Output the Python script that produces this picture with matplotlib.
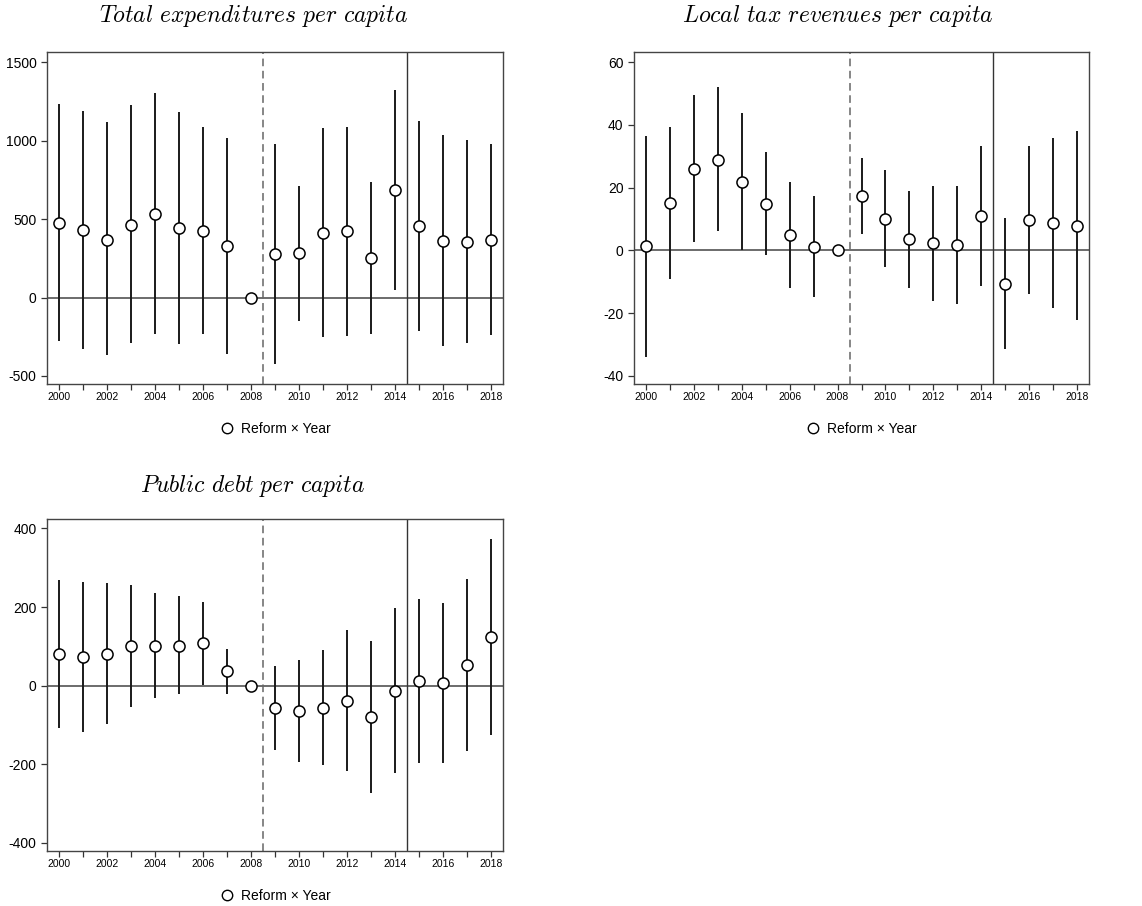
import matplotlib
matplotlib.use('Agg')
import matplotlib.pyplot as plt
from matplotlib.lines import Line2D

plt.rcParams['font.family'] = ['Liberation Sans', 'DejaVu Sans']
plt.rcParams['mathtext.fontset'] = 'cm'

# data
years = list(range(2000, 2019))

exp_coef = [475, 428, 368, 464, 530, 440, 423, 328, 0, 277, 281, 413, 421, 251, 685, 453, 362, 353, 366]
exp_hi = [1234, 1185, 1115, 1224, 1300, 1179, 1087, 1017, 0, 981, 713, 1079, 1087, 736, 1319, 1124, 1038, 1004, 977]
exp_lo = [-278, -325, -369, -291, -234, -295, -234, -357, 0, -422, -150, -249, -243, -232, 51, -215, -310, -291, -241]

tax_coef = [1.3, 15.0, 26.0, 28.9, 21.9, 14.8, 4.9, 1.2, 0, 17.2, 10.1, 3.5, 2.2, 1.8, 10.9, -10.7, 9.6, 8.6, 7.8]
tax_hi = [36.4, 39.2, 49.5, 51.9, 43.8, 31.3, 21.9, 17.3, 0, 29.4, 25.7, 19.0, 20.4, 20.6, 33.1, 10.2, 33.1, 35.9, 37.9]
tax_lo = [-34.0, -9.2, 2.6, 6.0, 0.1, -1.6, -12.0, -15.0, 0, 5.1, -5.4, -11.9, -16.0, -17.1, -11.5, -31.5, -14.0, -18.4, -22.1]

debt_coef = [80, 72, 81, 101, 102, 102, 108, 36, 0, -58, -64, -56, -38, -80, -14, 11, 7, 52, 123]
debt_hi = [270, 263, 260, 257, 236, 227, 212, 93, 0, 50, 64, 90, 141, 114, 197, 220, 210, 271, 372]
debt_lo = [-108, -118, -98, -55, -31, -22, 2, -22, 0, -164, -194, -201, -218, -273, -223, -197, -197, -166, -127]

W, H = 1142, 906
fig = plt.figure(figsize=(W / 100, H / 100), dpi=100)


def panel(rect, title, title_xy, coef, lo, hi, ylim, yticks):
    ax = fig.add_axes(rect)
    ax.axhline(0, color='#444444', lw=1.1, zorder=1)
    ax.axvline(2008.5, color='#666666', lw=1.1, ls=(0, (5, 3)), zorder=1)
    ax.axvline(2014.5, color='#333333', lw=1.0, zorder=1)
    ax.vlines(years, lo, hi, color='#1a1a1a', lw=1.4, zorder=2)
    ax.plot(years, coef, 'o', ms=8, mfc='white', mec='black', mew=1.1, zorder=3)
    ax.set_xlim(1999.5, 2018.5)
    ax.set_ylim(*ylim)
    ax.set_xticks(years)
    ax.set_xticklabels([str(y) if y % 2 == 0 else '' for y in years], fontsize=7.5)
    ax.set_yticks(yticks)
    ax.set_yticklabels([str(t) for t in yticks], fontsize=10)
    ax.tick_params(axis='both', direction='out', length=4, width=0.9, color='#333333')
    ax.tick_params(axis='x', pad=2)
    for s in ax.spines.values():
        s.set_color('#444444')
        s.set_linewidth(1.0)
    fig.text(title_xy[0] / W, 1 - title_xy[1] / H,
             r'$\mathit{' + title.replace(' ', r'\ ') + '}$',
             ha='center', va='center', fontsize=17)
    h = Line2D([], [], ls='none', marker='o', ms=7.5, mfc='white', mec='black', mew=1.0)
    ax.legend([h], ['Reform \u00d7 Year'], loc='center', bbox_to_anchor=(0.5, -45 / 332),
              frameon=False, fontsize=10, handletextpad=0.5, handlelength=1.0)
    return ax


panel([47 / W, 1 - 384 / H, 456 / W, 332 / H], 'Total expenditures per capita', (254, 16),
      exp_coef, exp_lo, exp_hi, (-551, 1564), [-500, 0, 500, 1000, 1500])
panel([634 / W, 1 - 384 / H, 455 / W, 332 / H], 'Local tax revenues per capita', (838, 16),
      tax_coef, tax_lo, tax_hi, (-42.6, 63.2), [-40, -20, 0, 20, 40, 60])
panel([47 / W, 1 - 851 / H, 456 / W, 332 / H], 'Public debt per capita', (253, 486),
      debt_coef, debt_lo, debt_hi, (-421, 424), [-400, -200, 0, 200, 400])

fig.savefig('out.png', dpi=100)
